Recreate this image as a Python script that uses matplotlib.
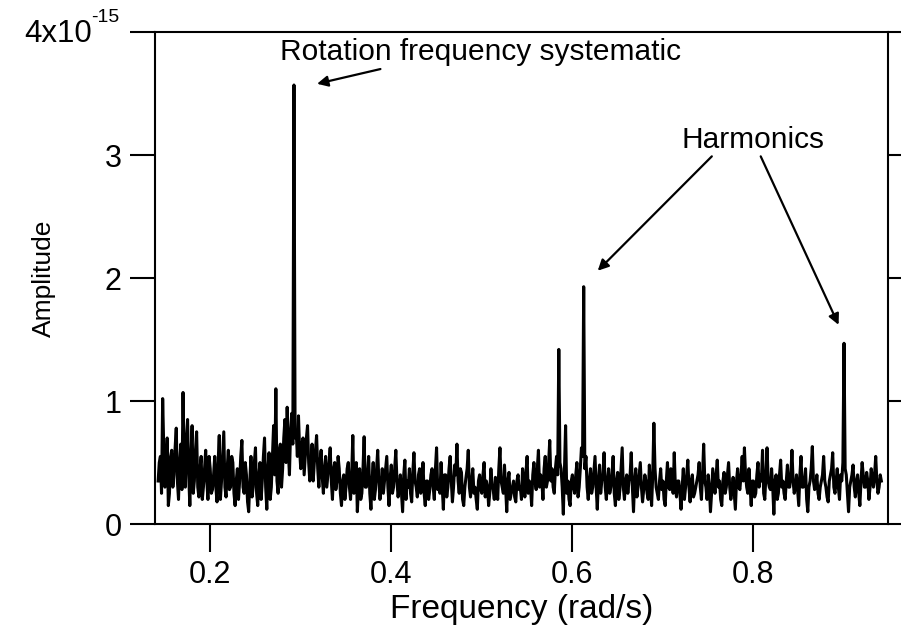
import matplotlib
matplotlib.use("Agg")
import matplotlib.pyplot as plt
import numpy as np

# frequency grid of the spectrum (rad/s); the "mid" samples sit half a step later
FREQ_START = 0.1425
FREQ_STEP = 0.0025

# amplitude, in units of 1e-15
amplitude = [
    0.35, 0.55, 1.02, 0.30, 0.70, 0.25, 0.60, 0.40, 0.78, 0.20, 0.65, 1.07, 0.30, 0.85, 0.15, 0.80, 0.35, 0.75, 0.22, 0.55,
    0.30, 0.60, 0.20, 0.45, 0.28, 0.55, 0.18, 0.72, 0.35, 0.75, 0.22, 0.60, 0.30, 0.50, 0.15, 0.45, 0.35, 0.68, 0.25, 0.40,
    0.10, 0.55, 0.30, 0.62, 0.15, 0.50, 0.35, 0.70, 0.12, 0.58, 0.30, 0.80, 1.10, 0.25, 0.65, 0.45, 0.85, 0.95, 0.40, 0.90,
    3.57, 0.75, 0.88, 0.45, 0.70, 0.55, 0.80, 0.35, 0.65, 0.50, 0.72, 0.30, 0.60, 0.25, 0.55, 0.40, 0.62, 0.20, 0.50, 0.35,
    0.45, 0.15, 0.40, 0.30, 0.50, 0.20, 0.72, 0.35, 0.10, 0.45, 0.25, 0.71, 0.30, 0.55, 0.12, 0.50, 0.28, 0.60, 0.20, 0.45,
    0.35, 0.55, 0.15, 0.48, 0.30, 0.60, 0.22, 0.40, 0.10, 0.52, 0.35, 0.45, 0.18, 0.58, 0.30, 0.40, 0.25, 0.50, 0.15, 0.35,
    0.28, 0.45, 0.20, 0.62, 0.35, 0.50, 0.12, 0.40, 0.30, 0.55, 0.18, 0.48, 0.65, 0.25, 0.42, 0.15, 0.38, 0.60, 0.22, 0.45,
    0.30, 0.12, 0.40, 0.25, 0.50, 0.35, 0.15, 0.45, 0.28, 0.38, 0.20, 0.62, 0.30, 0.48, 0.10, 0.42, 0.25, 0.35, 0.18, 0.40,
    0.30, 0.45, 0.22, 0.55, 0.35, 0.15, 0.50, 0.28, 0.60, 0.40, 0.20, 0.55, 0.35, 0.68, 0.45, 0.25, 0.55, 1.42, 0.45, 0.08,
    0.80, 0.35, 0.15, 0.40, 0.25, 0.50, 0.30, 0.62, 1.93, 0.55, 0.20, 0.45, 0.30, 0.55, 0.12, 0.48, 0.35, 0.58, 0.20, 0.45,
    0.30, 0.55, 0.15, 0.42, 0.28, 0.62, 0.20, 0.40, 0.35, 0.58, 0.10, 0.45, 0.30, 0.50, 0.18, 0.40, 0.25, 0.48, 0.15, 0.82,
    0.30, 0.20, 0.45, 0.35, 0.15, 0.50, 0.28, 0.40, 0.58, 0.22, 0.35, 0.12, 0.45, 0.30, 0.52, 0.18, 0.40, 0.25, 0.35, 0.50,
    0.20, 0.65, 0.30, 0.40, 0.10, 0.45, 0.25, 0.52, 0.35, 0.15, 0.42, 0.30, 0.50, 0.20, 0.38, 0.12, 0.45, 0.28, 0.55, 0.62,
    0.30, 0.45, 0.15, 0.35, 0.25, 0.50, 0.40, 0.60, 0.20, 0.62, 0.30, 0.45, 0.08, 0.40, 0.25, 0.52, 0.35, 0.20, 0.48, 0.30,
    0.60, 0.25, 0.40, 0.15, 0.55, 0.30, 0.45, 0.10, 0.35, 0.63, 0.28, 0.40, 0.20, 0.35, 0.55, 0.30, 0.18, 0.40, 0.58, 0.25,
    0.45, 0.20, 0.35, 1.47, 0.40, 0.10, 0.35, 0.48, 0.22, 0.40, 0.15, 0.50, 0.30, 0.42, 0.20, 0.45, 0.30, 0.55, 0.25, 0.40,
]

amplitude_mid = [
    0.50, 0.25, 0.60, 0.45, 0.15, 0.55, 0.30, 0.62, 0.35, 0.50, 0.28, 0.45, 0.70, 0.40, 0.55, 0.25, 0.60, 0.30, 0.45, 0.20,
    0.45, 0.35, 0.55, 0.25, 0.40, 0.30, 0.50, 0.20, 0.55, 0.30, 0.45, 0.28, 0.55, 0.25, 0.35, 0.20, 0.55, 0.30, 0.50, 0.18,
    0.35, 0.22, 0.50, 0.25, 0.40, 0.20, 0.55, 0.30, 0.45, 0.20, 0.55, 0.40, 0.35, 0.60, 0.30, 0.70, 0.50, 0.60, 0.75, 0.65,
    0.70, 0.55, 0.60, 0.65, 0.40, 0.70, 0.50, 0.45, 0.35, 0.60, 0.45, 0.50, 0.38, 0.45, 0.30, 0.50, 0.35, 0.45, 0.28, 0.55,
    0.25, 0.35, 0.20, 0.45, 0.30, 0.40, 0.25, 0.50, 0.30, 0.20, 0.45, 0.30, 0.40, 0.25, 0.35, 0.20, 0.45, 0.35, 0.30, 0.25,
    0.45, 0.30, 0.38, 0.25, 0.45, 0.35, 0.30, 0.25, 0.40, 0.20, 0.30, 0.25, 0.42, 0.35, 0.22, 0.45, 0.30, 0.25, 0.35, 0.20,
    0.40, 0.30, 0.45, 0.28, 0.25, 0.30, 0.40, 0.22, 0.45, 0.35, 0.30, 0.40, 0.35, 0.45, 0.20, 0.30, 0.45, 0.30, 0.35, 0.25,
    0.20, 0.35, 0.28, 0.40, 0.22, 0.30, 0.25, 0.32, 0.20, 0.30, 0.45, 0.35, 0.25, 0.30, 0.35, 0.20, 0.30, 0.22, 0.35, 0.28,
    0.20, 0.35, 0.42, 0.25, 0.30, 0.40, 0.35, 0.45, 0.30, 0.35, 0.45, 0.30, 0.50, 0.35, 0.30, 0.45, 0.40, 0.50, 0.30, 0.45,
    0.25, 0.20, 0.35, 0.30, 0.40, 0.22, 0.45, 0.55, 0.45, 0.30, 0.35, 0.25, 0.42, 0.30, 0.35, 0.25, 0.40, 0.30, 0.35, 0.25,
    0.40, 0.25, 0.35, 0.20, 0.45, 0.30, 0.35, 0.25, 0.40, 0.30, 0.35, 0.22, 0.40, 0.30, 0.28, 0.35, 0.20, 0.30, 0.40, 0.45,
    0.25, 0.35, 0.28, 0.20, 0.35, 0.30, 0.45, 0.25, 0.30, 0.35, 0.25, 0.30, 0.20, 0.40, 0.30, 0.35, 0.22, 0.30, 0.40, 0.30,
    0.40, 0.35, 0.20, 0.30, 0.25, 0.35, 0.40, 0.30, 0.20, 0.35, 0.25, 0.40, 0.30, 0.28, 0.25, 0.35, 0.30, 0.40, 0.35, 0.40,
    0.25, 0.30, 0.35, 0.22, 0.40, 0.30, 0.35, 0.25, 0.40, 0.35, 0.28, 0.30, 0.35, 0.20, 0.40, 0.30, 0.25, 0.35, 0.30, 0.40,
    0.35, 0.30, 0.28, 0.40, 0.30, 0.35, 0.20, 0.30, 0.45, 0.35, 0.30, 0.25, 0.30, 0.40, 0.35, 0.22, 0.35, 0.45, 0.30, 0.35,
    0.30, 0.40, 0.50, 0.45, 0.25, 0.30, 0.40, 0.30, 0.35, 0.25, 0.35, 0.40, 0.30, 0.35, 0.30, 0.38, 0.40, 0.35, 0.30, 0.35,
]

freq_main = FREQ_START + FREQ_STEP * np.arange(len(amplitude))
freq = np.column_stack([freq_main, freq_main + FREQ_STEP / 2]).ravel()
amp = np.column_stack([amplitude, amplitude_mid]).ravel()

x_ticks = [0.2, 0.4, 0.6, 0.8]
y_ticks = [0, 1, 2, 3, 4]
y_tick_labels = ["0", "1", "2", "3", ""]

# annotation anchors (data coords)
rot_label = "Rotation frequency systematic"
rot_text_pos = (0.498, 3.84)
rot_arrows = [((0.388, 3.70), (0.318, 3.58))]
harm_label = "Harmonics"
harm_text_pos = (0.799, 3.12)
harm_arrows = [((0.754, 2.99), (0.628, 2.06)), ((0.808, 2.99), (0.894, 1.62))]

plt.rcParams["font.family"] = ["Liberation Sans", "DejaVu Sans"]

fig = plt.figure(figsize=(9.01, 6.43), dpi=100)
ax = fig.add_axes([0.172, 0.185, 0.814, 0.765])

ax.plot(freq, amp, color="black", lw=2.2)

ax.set_xlim(0.139, 0.949)
ax.set_ylim(0, 4)
ax.set_xticks(x_ticks)
ax.set_xticklabels([f"{t:.1f}" for t in x_ticks])
ax.set_yticks(y_ticks)
ax.set_yticklabels(y_tick_labels)

for s in ax.spines.values():
    s.set_linewidth(1.5)
ax.tick_params(axis="x", direction="out", length=20, width=1.5, labelsize=22, pad=6)
ax.tick_params(axis="y", direction="out", length=18, width=1.5, labelsize=22, pad=6,
               right=True)

ax.set_xlabel("Frequency (rad/s)", fontsize=24, labelpad=3)
ax.set_ylabel("Amplitude", fontsize=19)
ax.yaxis.set_label_coords(-0.135, 0.5)

# top y tick label with exponent, drawn by hand
ax.text(-0.086, 0.997, "4x10", transform=ax.transAxes, ha="right", va="center", fontsize=22.5)
ax.text(-0.087, 1.012, "-15", transform=ax.transAxes, ha="left", va="bottom", fontsize=14)

arrow_kw = dict(arrowstyle="-|>", color="black", lw=1.6, mutation_scale=16, shrinkA=0, shrinkB=0)
ax.text(*rot_text_pos, rot_label, ha="center", va="center", fontsize=21.5)
for tail, head in rot_arrows:
    ax.annotate("", xy=head, xytext=tail, arrowprops=arrow_kw)
ax.text(*harm_text_pos, harm_label, ha="center", va="center", fontsize=21.5)
for tail, head in harm_arrows:
    ax.annotate("", xy=head, xytext=tail, arrowprops=arrow_kw)

fig.savefig("out.png", dpi=100)
